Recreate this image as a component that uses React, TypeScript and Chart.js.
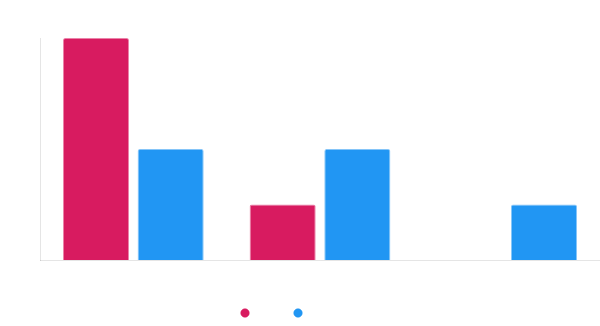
import React, { useEffect, useRef } from "react";
import { Chart, registerables } from "chart.js";

Chart.register(...registerables);

const categories = ["A", "B", "C"];
const seriesRedLabel = "";
const seriesBlueLabel = "";
const seriesRed = [4, 1, 0];
const seriesBlue = [2, 2, 1];

export default function App() {
  const ref = useRef<HTMLCanvasElement | null>(null);

  useEffect(() => {
    document.body.style.margin = "0";
    const canvas = ref.current;
    if (!canvas) return;
    const chart = new Chart(canvas, {
      type: "bar",
      data: {
        labels: categories,
        datasets: [
          {
            label: seriesRedLabel,
            data: seriesRed,
            backgroundColor: "#D81B60",
            borderColor: "rgba(216,27,96,0.55)",
            borderWidth: 1,
            borderRadius: 2,
            barPercentage: 0.885,
          },
          {
            label: seriesBlueLabel,
            data: seriesBlue,
            backgroundColor: "#2196F3",
            borderColor: "rgba(33,150,243,0.55)",
            borderWidth: 1,
            borderRadius: 2,
            barPercentage: 0.885,
          },
        ],
      },
      options: {
        animation: false,
        responsive: false,
        maintainAspectRatio: false,
        layout: { padding: { top: 38, left: 0, right: 0, bottom: 0 } },
        scales: {
          x: {
            grid: { display: false },
            ticks: { display: false },
            border: { display: true, color: "rgba(0,0,0,0.1)" },
            afterFit: (scale: any) => {
              scale.height = 6;
            },
          },
          y: {
            beginAtZero: true,
            grid: { display: false },
            ticks: { display: false },
            border: { display: true, color: "rgba(0,0,0,0.1)" },
            afterFit: (scale: any) => {
              scale.width = 94;
            },
          },
        },
        plugins: {
          tooltip: { enabled: false },
          legend: {
            display: true,
            position: "bottom",
            labels: {
              usePointStyle: true,
              pointStyle: "circle",
              boxWidth: 6,
              boxHeight: 6,
              padding: 44,
              font: { size: 6 },
            },
          },
        },
      },
    });
    return () => chart.destroy();
  }, []);

  return (
    <div style={{ position: "relative", width: 600, height: 326, overflow: "hidden" }}>
      <canvas
        ref={ref}
        width={654}
        height={326}
        style={{ position: "absolute", left: -54, top: 0, width: 654, height: 326 }}
      />
    </div>
  );
}
